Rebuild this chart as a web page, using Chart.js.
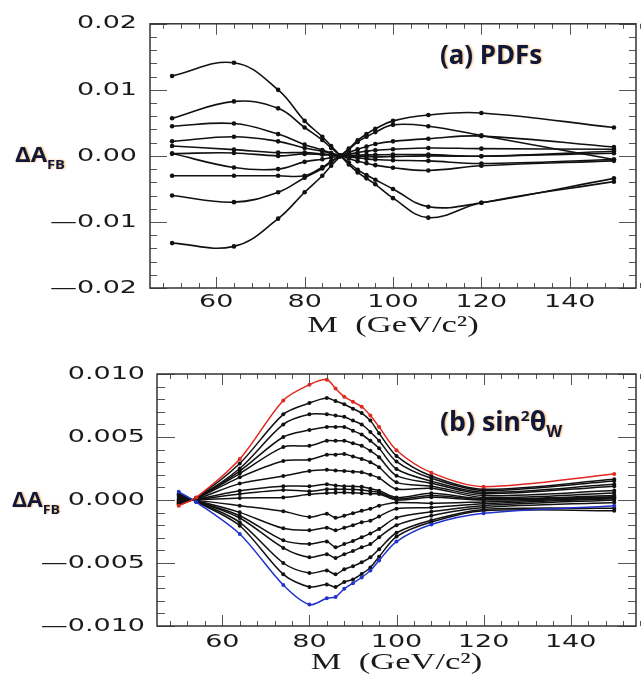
<!DOCTYPE html>
<html><head><meta charset="utf-8">
<script src="https://cdn.jsdelivr.net/npm/chart.js@4.4.0/dist/chart.umd.min.js"></script>
<style>
html,body{margin:0;padding:0;background:#fff;width:641px;height:677px;overflow:hidden}
.box{position:absolute;left:0;width:641px}
#b1{top:0;height:340px}
#b2{top:340px;height:337px}
canvas{display:block}
</style></head><body>
<div class="box" id="b1"><canvas id="c1" width="641" height="340"></canvas></div>
<div class="box" id="b2"><canvas id="c2" width="641" height="337"></canvas></div>
<script>
// ---------- DATA (ΔA_FB in units of 10^-3) ----------
const xTickValues = [60, 80, 100, 120, 140];

// Panel (a) PDFs
const xPDF = [50, 64, 74, 80, 84, 86, 88, 90, 92, 94, 96, 100, 108, 120, 150];
const pdfCurves = [
  [12.1, 14.1, 10.0, 5.3, 2.9, 1.5, 0.1, -1.3, -2.5, -3.4, -4.3, -6.4, -9.35, -7.1, -3.9],
  [5.7, 8.25, 7.2, 4.3, 2.4, 1.2, 0.1, -1.0, -2.1, -2.9, -3.6, -5.0, -7.7, -7.1, -3.4],
  [4.5, 4.9, 3.3, 1.7, 0.9, 0.45, 0.05, -0.4, -0.8, -1.1, -1.4, -1.8, -2.2, -1.5, -0.75],
  [2.2, 2.9, 2.2, 1.2, 0.7, 0.35, 0.05, -0.15, -0.3, -0.45, -0.55, -0.65, -0.75, -1.15, -0.55],
  [1.5, 0.95, 0.5, 0.5, 0.3, 0.15, 0.0, -0.05, -0.1, -0.1, -0.15, -0.1, 0.0, -0.05, 0.4],
  [0.35, 0.45, 0.0, 0.3, 0.2, 0.1, 0.0, 0.05, 0.1, 0.15, 0.15, 0.2, 0.2, -0.05, 0.7],
  [0.35, -1.75, -2.0, -0.9, -0.5, -0.25, 0.0, 0.25, 0.5, 0.7, 0.85, 1.0, 1.2, 1.1, 1.0],
  [-3.0, -3.0, -3.0, -3.0, -1.7, -0.8, 0.0, 0.5, 1.0, 1.4, 1.8, 2.2, 2.6, 3.0, 1.34],
  [-6.0, -7.0, -5.5, -3.3, -1.9, -0.9, -0.05, 1.0, 2.1, 2.9, 3.6, 4.7, 4.5, 3.1, -0.55],
  [-13.2, -13.7, -9.5, -5.5, -3.0, -1.5, -0.1, 1.1, 2.35, 3.3, 4.1, 5.3, 6.2, 6.5, 4.3]
];
const pdfYTickValues = [-20, -10, 0, 10, 20];
const pdfYTickLabels = ['\u20140.02', '\u20140.01', '0.00', '0.01', '0.02'];

// Panel (b) sin^2 theta_W
const xSin = [50, 54, 64, 74, 80, 84, 86, 88, 90, 92, 94, 96, 100, 108, 120, 150];
const sinRed  = [-0.45, 0.2, 3.25, 7.9, 9.15, 9.55, 8.85, 8.2, 7.8, 7.4, 6.7, 5.8, 3.95, 2.17, 1.06, 2.06];
const sinBlue = [0.65, -0.16, -2.7, -6.75, -8.3, -7.8, -7.7, -7.05, -6.6, -6.15, -5.6, -4.8, -3.3, -1.95, -1.06, -0.45];
const sinBlackCurves = [
  [-0.4, 0.18, 2.9, 6.8, 7.7, 8.1, 7.85, 7.6, 7.25, 6.9, 6.3, 5.3, 3.5, 1.9, 0.85, 1.64],
  [-0.35, 0.15, 2.5, 6.0, 6.8, 6.8, 6.7, 6.6, 6.3, 6.0, 5.4, 4.7, 3.05, 1.72, 0.75, 1.5],
  [-0.3, 0.14, 2.3, 5.0, 5.55, 5.8, 5.8, 5.8, 5.5, 5.2, 4.7, 4.1, 2.46, 1.5, 0.62, 1.25],
  [-0.25, 0.13, 2.1, 4.2, 4.3, 4.7, 4.7, 4.7, 4.5, 4.3, 3.9, 3.4, 1.93, 1.33, 0.5, 1.1],
  [-0.2, 0.11, 1.8, 3.1, 3.2, 3.6, 3.6, 3.65, 3.45, 3.25, 3.0, 2.6, 1.4, 1.1, 0.35, 0.75],
  [-0.15, 0.08, 1.3, 1.9, 2.3, 2.4, 2.35, 2.3, 2.25, 2.2, 2.0, 1.75, 0.87, 0.93, 0.2, 0.55],
  [-0.1, 0.05, 0.74, 1.1, 1.1, 1.25, 1.15, 1.1, 1.08, 1.05, 0.9, 0.74, 0.2, 0.53, 0.1, 0.35],
  [-0.05, 0.03, 0.48, 0.8, 0.7, 0.85, 0.85, 0.85, 0.83, 0.8, 0.7, 0.6, 0.08, 0.35, 0.05, 0.25],
  [0.0, 0.01, 0.16, 0.2, 0.45, 0.55, 0.58, 0.6, 0.57, 0.53, 0.5, 0.48, 0.0, 0.21, 0.0, 0.2],
  [0.05, -0.03, -0.45, -0.9, -1.35, -1.1, -1.4, -1.25, -1.05, -0.85, -0.7, -0.45, -0.2, -0.26, -0.15, 0.15],
  [0.15, -0.06, -0.98, -2.25, -2.4, -2.2, -2.4, -2.2, -2.0, -1.77, -1.64, -1.3, -0.7, -0.6, -0.3, 0.1],
  [0.25, -0.08, -1.25, -3.2, -3.5, -3.3, -3.75, -3.5, -3.25, -2.96, -2.65, -2.3, -1.4, -0.93, -0.45, 0.0],
  [0.35, -0.09, -1.43, -3.8, -4.55, -4.3, -4.6, -4.3, -4.05, -3.75, -3.5, -2.96, -2.0, -1.25, -0.6, -0.2],
  [0.45, -0.11, -1.77, -5.0, -5.8, -5.6, -5.9, -5.5, -5.25, -4.94, -4.55, -3.9, -2.6, -1.6, -0.75, -0.65],
  [0.5, -0.13, -2.04, -5.9, -6.9, -6.7, -6.9, -6.5, -6.3, -5.87, -5.35, -4.5, -2.9, -1.75, -0.85, -0.85]
];
const sinYTickValues = [-10, -5, 0, 5, 10];
const sinYTickLabels = ['\u20140.010', '\u20140.005', '0.000', '0.005', '0.010'];

const xAxisTitle = 'M  (GeV/c\u00B2)';

// ---------- PLUGINS ----------
// Axis text of the original plot uses a very wide font: stretch the library's own
// tick/title text horizontally about its anchor point while the scales are drawn.
const nativeFillText = CanvasRenderingContext2D.prototype.fillText;
const TEXT_STRETCH = 1.5;
const stretchPlugin = {
  id: 'stretch',
  beforeDraw(chart) {
    chart.ctx.fillText = function (t, x, y) {
      this.save();
      this.translate(x, y);
      this.scale(TEXT_STRETCH, 1);
      nativeFillText.call(this, t, 0, 0);
      this.restore();
    };
  },
  beforeDatasetsDraw(chart) { delete chart.ctx.fillText; }
};

const framePlugin = {
  id: 'frame',
  afterDatasetsDraw(chart, args, o) {
    const ctx = chart.ctx, a = chart.chartArea, xs = chart.scales.x, ys = chart.scales.y;
    ctx.save();
    ctx.strokeStyle = '#555';
    ctx.lineWidth = 1;
    const line = (x1, y1, x2, y2) => { ctx.beginPath(); ctx.moveTo(x1, y1); ctx.lineTo(x2, y2); ctx.stroke(); };
    const nx = Math.round((xs.max - o.xMinorStart) / o.xMinorStep);
    for (let i = 0; i <= nx; i++) {
      const v = o.xMinorStart + i * o.xMinorStep;
      const px = Math.round(xs.getPixelForValue(v)) + 0.5;
      const L = (v % o.xMajorStep === 0) ? o.xMajorLen : o.xMinorLen;
      line(px, a.bottom, px, a.bottom - L);
      line(px, a.top, px, a.top + L);
    }
    const ny = Math.round((ys.max - ys.min) / o.yMinorStep);
    for (let i = 0; i <= ny; i++) {
      const v = ys.min + i * o.yMinorStep;
      const py = Math.round(ys.getPixelForValue(v)) + 0.5;
      const L = (Math.abs(v % o.yMajorStep) < 1e-9) ? o.yMajorLen : o.yMinorLen;
      line(a.left, py, a.left + L, py);
      line(a.right, py, a.right - L, py);
    }
    ctx.strokeStyle = '#333';
    ctx.lineWidth = 1.5;
    ctx.strokeRect(a.left, a.top, a.right - a.left, a.bottom - a.top);
    ctx.restore();
  }
};

function drawPieces(ctx, pieces, x0, target) {
  let w = 0;
  pieces.forEach(p => { ctx.font = p[1]; w += ctx.measureText(p[0]).width; });
  const s = target / w;
  ctx.save();
  ctx.translate(x0, 0);
  ctx.scale(s, 1);
  let x = 0;
  pieces.forEach(p => {
    ctx.font = p[1];
    ctx.fillText(p[0], x, p[2]);
    x += ctx.measureText(p[0]).width;
  });
  ctx.restore();
}

const labelPlugin = {
  id: 'labels',
  afterDraw(chart, args, o) {
    const ctx = chart.ctx;
    ctx.save();
    ctx.textBaseline = 'alphabetic';
    ctx.textAlign = 'left';
    ctx.fillStyle = '#10183a';
    ctx.shadowColor = 'rgba(235,150,40,0.75)';
    ctx.shadowBlur = 2;
    ctx.shadowOffsetX = 1;
    ctx.shadowOffsetY = 0;
    const F = '"Open Sans", "DejaVu Sans", sans-serif';
    drawPieces(ctx, [['\u0394A', 'bold 21px ' + F, o.dBase], ['FB', 'bold 13px ' + F, o.dBase + 7]], o.dX, o.dW);
    drawPieces(ctx, o.panel.map(p => [p[0], 'bold ' + p[1] + 'px ' + F, o.pBase + p[2]]), o.pX, o.pW);
    ctx.restore();
  }
};

// ---------- CHART BUILDER ----------
function makeChart(id, cfg) {
  const datasets = cfg.series.map((vals, i) => ({
    data: cfg.x.map((x, j) => ({ x: x, y: vals[j] })),
    borderColor: cfg.colors[i],
    backgroundColor: cfg.colors[i],
    pointBackgroundColor: cfg.colors[i],
    pointBorderColor: cfg.colors[i],
    borderWidth: cfg.lineWidth,
    pointRadius: cfg.pointRadius,
    pointHoverRadius: 0,
    pointBorderWidth: 0,
    tension: cfg.tension,
    fill: false,
    order: cfg.order[i]
  }));
  return new Chart(document.getElementById(id), {
    type: 'line',
    data: { datasets },
    options: {
      responsive: false,
      animation: false,
      events: [],
      layout: { padding: { top: cfg.padTop, right: 5, left: 0, bottom: 0 } },
      plugins: {
        legend: { display: false },
        tooltip: { enabled: false },
        frame: cfg.frame,
        labels: cfg.labels
      },
      scales: {
        x: {
          type: 'linear', min: 45, max: 155,
          grid: { display: false, drawTicks: false },
          border: { display: false },
          afterBuildTicks: s => { s.ticks = xTickValues.map(v => ({ value: v })); },
          afterFit: s => { s.height = cfg.xAxisHeight; },
          ticks: {
            autoSkip: false, maxRotation: 0, minRotation: 0, padding: cfg.xTickPad, color: '#1a1a1a',
            font: { family: 'DejaVu Sans', size: 18 },
            callback: v => String(v)
          },
          title: {
            display: true, text: xAxisTitle, color: '#1a1a1a', padding: { top: 0, bottom: cfg.titlePad },
            font: { family: 'Liberation Serif', size: 23 }
          }
        },
        y: {
          type: 'linear', min: cfg.yMin, max: cfg.yMax,
          grid: { display: false, drawTicks: false },
          border: { display: false },
          afterBuildTicks: s => { s.ticks = cfg.yTicks.map(v => ({ value: v })); },
          afterFit: s => { s.width = cfg.yAxisWidth; },
          ticks: {
            autoSkip: false, padding: cfg.yTickPad, color: '#1a1a1a',
            font: { family: 'DejaVu Sans', size: 18 },
            callback: v => cfg.yLabels[cfg.yTicks.indexOf(v)]
          }
        }
      }
    },
    plugins: [stretchPlugin, framePlugin, labelPlugin]
  });
}

// Panel (a)
makeChart('c1', {
  x: xPDF,
  series: pdfCurves,
  colors: pdfCurves.map(() => '#111'),
  order: pdfCurves.map(() => 0),
  lineWidth: 1.6, pointRadius: 2.3, tension: 0.4,
  padTop: 20, yAxisWidth: 150, xAxisHeight: 52, xTickPad: 4, yTickPad: 13, titlePad: 0,
  yMin: -20, yMax: 20, yTicks: pdfYTickValues, yLabels: pdfYTickLabels,
  frame: { xMinorStart: 48, xMinorStep: 4, xMajorStep: 20, xMajorLen: 11, xMinorLen: 5,
           yMinorStep: 2, yMajorStep: 10, yMajorLen: 17, yMinorLen: 7 },
  labels: { dX: 15, dW: 50, dBase: 162, pX: 440, pW: 102, pBase: 64,
            panel: [['(a) PDFs', 26, 0]] }
});

// Panel (b)
const sinSeries = [sinRed].concat(sinBlackCurves, [sinBlue]);
makeChart('c2', {
  x: xSin,
  series: sinSeries,
  colors: sinSeries.map((s, i) => i === 0 ? '#e0281e' : (i === sinSeries.length - 1 ? '#2233cc' : '#111')),
  order: sinSeries.map((s, i) => (i === 0 || i === sinSeries.length - 1) ? -1 : 0),
  lineWidth: 1.5, pointRadius: 2, tension: 0.3,
  padTop: 34, yAxisWidth: 157, xAxisHeight: 51, xTickPad: 6, yTickPad: 12, titlePad: 0,
  yMin: -10, yMax: 10, yTicks: sinYTickValues, yLabels: sinYTickLabels,
  frame: { xMinorStart: 48, xMinorStep: 4, xMajorStep: 20, xMajorLen: 11, xMinorLen: 5,
           yMinorStep: 1, yMajorStep: 5, yMajorLen: 18, yMinorLen: 8 },
  labels: { dX: 12, dW: 48, dBase: 167, pX: 440, pW: 122, pBase: 91,
            panel: [['(b) sin', 26, 0], ['2', 15, -10], ['\u03B8', 26, 0], ['W', 16, 6]] }
});
</script></body></html>
